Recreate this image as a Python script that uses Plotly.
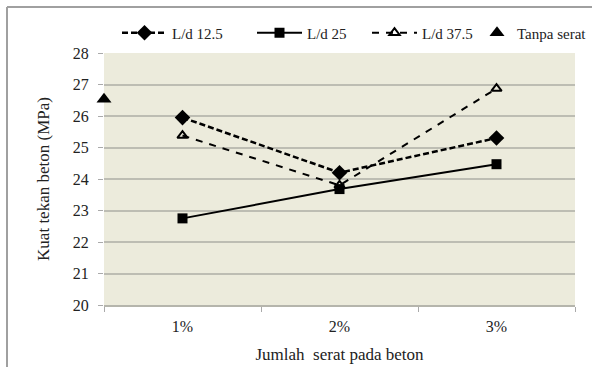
import plotly.graph_objects as go

categories = ["1%", "2%", "3%"]
ld_12_5 = [25.95, 24.2, 25.3]
ld_25 = [22.75, 23.68, 24.47]
ld_37_5 = [25.38, 23.8, 26.87]
tanpa_serat = [26.53]
y_ticks = [20, 21, 22, 23, 24, 25, 26, 27, 28]

xpos = list(range(len(categories)))
FONT = "'Liberation Serif', 'Times New Roman', Times, serif"

L, R, T, B = 104, 17, 53, 62
PW, PH = 592 - L - R, 367 - T - B


def px_x(p):
    return (p - L) / PW


def px_y(p):
    return 1 - (p - T) / PH


fig = go.Figure()
fig.add_trace(go.Scatter(
    x=xpos, y=ld_12_5, name="L/d 12.5", mode="lines+markers", legend="legend",
    line=dict(color="black", width=2.5, dash="6px,3px"),
    marker=dict(symbol="diamond", size=12, color="black"),
))
fig.add_trace(go.Scatter(
    x=xpos, y=ld_25, name="L/d 25", mode="lines+markers", legend="legend2",
    line=dict(color="black", width=2),
    marker=dict(symbol="square", size=10, color="black"),
))
fig.add_trace(go.Scatter(
    x=xpos, y=ld_37_5, name="L/d 37.5", mode="lines+markers", legend="legend3",
    line=dict(color="black", width=2, dash="7px,7px"),
    marker=dict(symbol="triangle-up-open", size=9, color="black", line=dict(width=2)),
))
fig.add_trace(go.Scatter(
    x=[-0.5], y=tanpa_serat, name="Tanpa serat", mode="markers", legend="legend4",
    marker=dict(symbol="triangle-up", size=13, color="black"),
    cliponaxis=False,
))

leg_common = dict(
    orientation="h", yanchor="middle", xanchor="left",
    font=dict(family=FONT, size=15, color="#222"),
    bgcolor="rgba(0,0,0,0)", itemwidth=45,
)
leg_y = px_y(33)
fig.update_layout(
    width=592, height=367,
    margin=dict(l=L, r=R, t=T, b=B, autoexpand=False),
    paper_bgcolor="white",
    plot_bgcolor="#ECEBDC",
    font=dict(family=FONT, color="#222", size=14),
    showlegend=True,
    legend=dict(x=px_x(122 - 5), y=leg_y, **leg_common),
    legend2=dict(x=px_x(257 - 5), y=leg_y, **leg_common),
    legend3=dict(x=px_x(372 - 5), y=leg_y, **leg_common),
    legend4=dict(x=px_x(592), y=leg_y,
                 **{**leg_common, "itemwidth": 30, "xanchor": "right"}),
)
fig.update_xaxes(
    range=[-0.5, 2.5],
    tickvals=xpos, ticktext=categories,
    ticks="", showgrid=False, zeroline=False,
    tickfont=dict(family=FONT, size=16), ticklabelstandoff=6,
    title=dict(text="Jumlah  serat pada beton", font=dict(family=FONT, size=17), standoff=14),
    showline=True, linecolor="#B5B5AC", linewidth=2,
    minor=dict(tickvals=[-0.5, 0.5, 1.5, 2.5], ticks="outside", ticklen=5,
               tickcolor="#AAAAAA", showgrid=False),
)
fig.update_yaxes(
    range=[20, 28], tickvals=y_ticks,
    showgrid=True, gridcolor="#BDBDB3", gridwidth=2,
    zeroline=False,
    ticks="outside", ticklen=5, tickcolor="#AAAAAA",
    tickfont=dict(family=FONT, size=16), ticklabelstandoff=6,
    title=dict(text="Kuat tekan beton (MPa)", font=dict(family=FONT, size=17), standoff=18),
)

# outer frame (top and left edges)
fig.add_shape(type="line", xref="paper", yref="paper",
              x0=px_x(7), x1=px_x(600), y0=px_y(7), y1=px_y(7),
              line=dict(color="#A0A0A0", width=2))
fig.add_shape(type="line", xref="paper", yref="paper",
              x0=px_x(7), x1=px_x(7), y0=px_y(7), y1=px_y(380),
              line=dict(color="#A0A0A0", width=2))

fig.write_html("out.html")
